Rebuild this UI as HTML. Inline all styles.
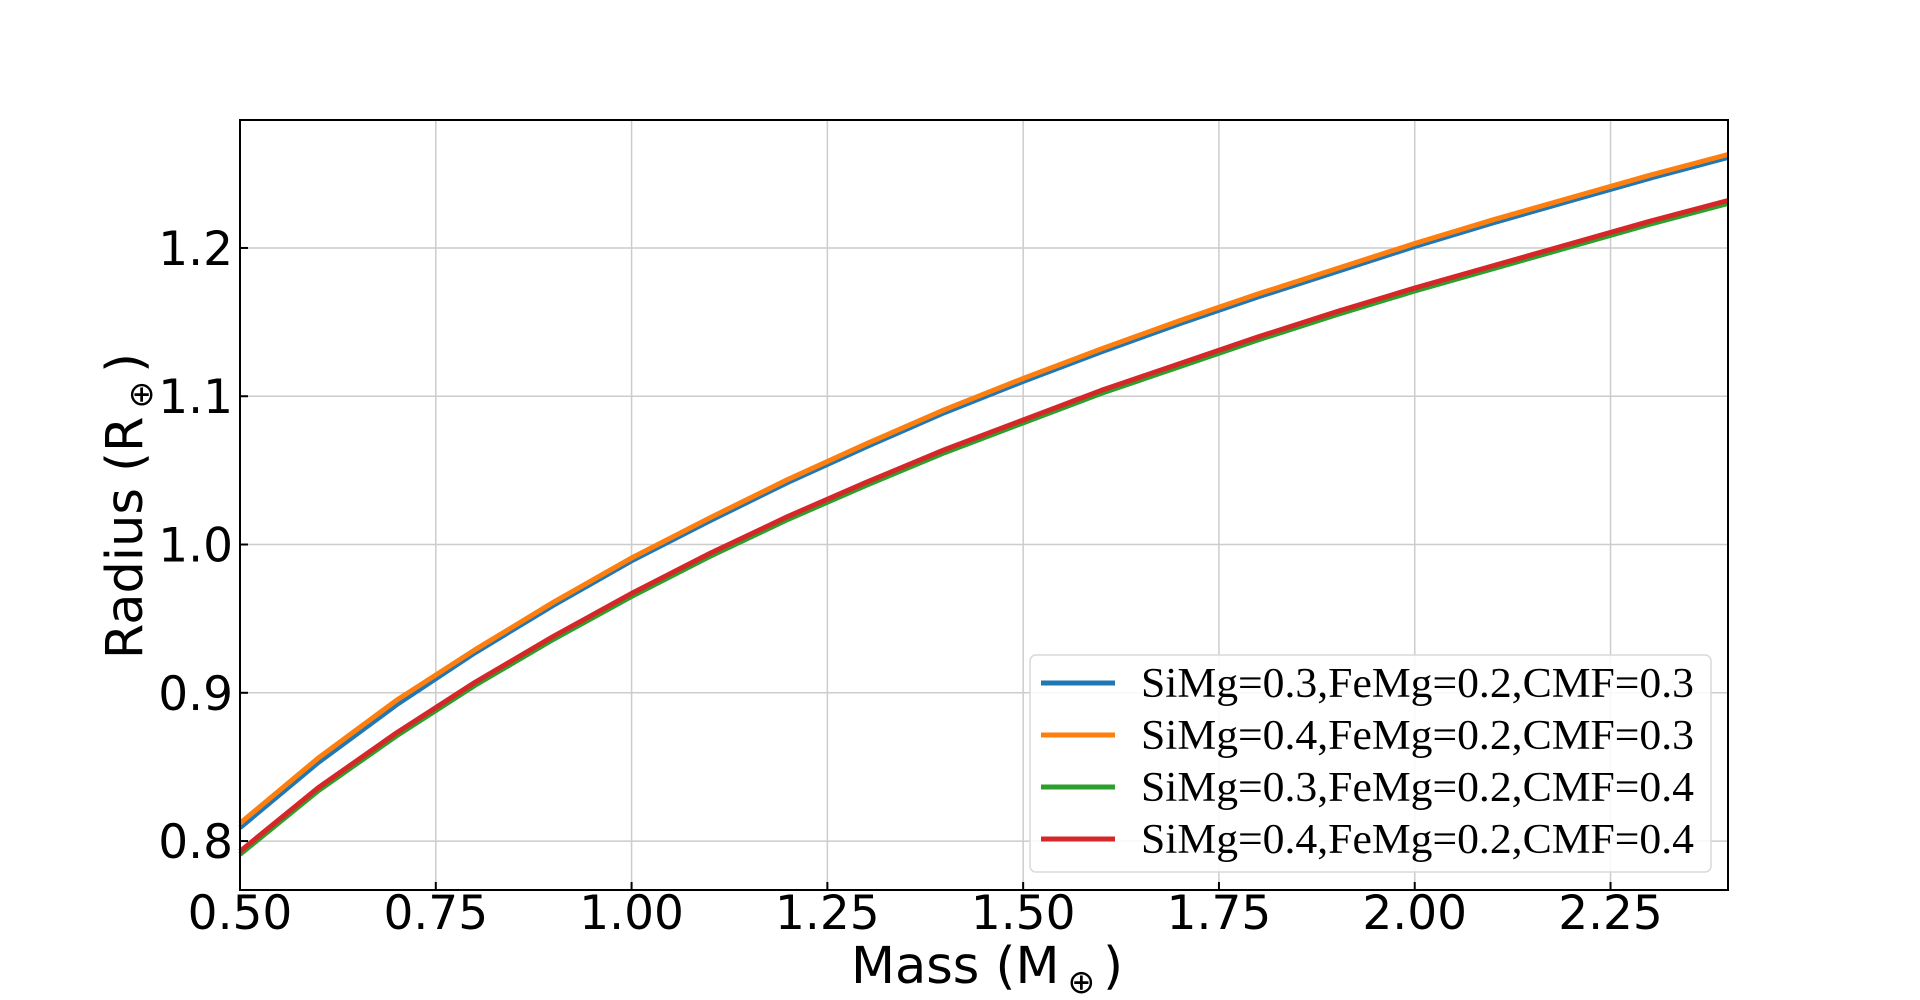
<!DOCTYPE html>
<html><head><meta charset="utf-8"><style>
html,body{margin:0;padding:0;background:#fff;}
svg{display:block;}
</style></head><body>
<svg id="chart" width="1920" height="1000" viewBox="0 0 1920 1000" xmlns="http://www.w3.org/2000/svg" font-family="'DejaVu Sans','Liberation Sans',sans-serif">
<g id="grid"></g>
<g id="series"></g>
<rect x="240" y="120" width="1488" height="770" fill="none" stroke="#000" stroke-width="2"/>
<g id="ticks"></g>
<text x="987" y="983" font-size="51" text-anchor="middle">Mass (M<tspan font-size="33" dx="8" dy="10">⊕</tspan><tspan dx="8" dy="-10">)</tspan></text>
<text transform="translate(142,506) rotate(-90)" font-size="51" text-anchor="middle">Radius (R<tspan font-size="33" dx="8" dy="10">⊕</tspan><tspan dx="8" dy="-10">)</tspan></text>
<g id="legend"></g>
</svg>
<script>
const masses = [0.5,0.6,0.7,0.8,0.9,1.0,1.1,1.2,1.3,1.4,1.5,1.6,1.7,1.8,1.9,2.0,2.1,2.2,2.3,2.4];
const radiusA = [0.809,0.853,0.892,0.927,0.959,0.989,1.016,1.042,1.066,1.089,1.110,1.130,1.149,1.167,1.184,1.201,1.217,1.232,1.247,1.261];
const radiusB = [0.812,0.856,0.895,0.929,0.961,0.991,1.018,1.044,1.068,1.091,1.112,1.132,1.151,1.169,1.186,1.203,1.219,1.234,1.249,1.263];
const radiusC = [0.791,0.834,0.871,0.905,0.936,0.965,0.992,1.017,1.040,1.062,1.082,1.102,1.120,1.138,1.155,1.171,1.186,1.201,1.216,1.230];
const radiusD = [0.793,0.836,0.873,0.907,0.938,0.967,0.994,1.019,1.042,1.064,1.084,1.104,1.122,1.140,1.157,1.173,1.188,1.203,1.218,1.232];
const seriesNames = ["SiMg=0.3,FeMg=0.2,CMF=0.3","SiMg=0.4,FeMg=0.2,CMF=0.3","SiMg=0.3,FeMg=0.2,CMF=0.4","SiMg=0.4,FeMg=0.2,CMF=0.4"];
const xTicks = [0.5,0.75,1.0,1.25,1.5,1.75,2.0,2.25];
const xTickLabels = ["0.50","0.75","1.00","1.25","1.50","1.75","2.00","2.25"];
const yTicks = [0.8,0.9,1.0,1.1,1.2];
const yTickLabels = ["0.8","0.9","1.0","1.1","1.2"];

const colors = ["#1f77b4","#ff7f0e","#2ca02c","#d62728"];
const X0=240,X1=1728,Y0=890,Y1=120, xmin=0.5,xmax=2.4,ymin=0.767,ymax=1.2863;
const xs = v => X0+(v-xmin)/(xmax-xmin)*(X1-X0);
const ys = v => Y0-(v-ymin)/(ymax-ymin)*(Y0-Y1);
const NS="http://www.w3.org/2000/svg";
function mk(tag,attrs,parent){const e=document.createElementNS(NS,tag);for(const k in attrs)e.setAttribute(k,attrs[k]);parent.appendChild(e);return e;}
const grid=document.getElementById('grid'),ticks=document.getElementById('ticks'),ser=document.getElementById('series'),leg=document.getElementById('legend');
xTicks.forEach((t,i)=>{const x=xs(t);
 const g=mk('line',{x1:x,x2:x,y1:Y1,y2:Y0,stroke:'#cccccc','stroke-width':1.5},grid);
 
 
 const tk=mk('line',{x1:x,x2:x,y1:Y0,y2:Y0-8,stroke:'#000','stroke-width':2},ticks);
 
 
 const tx=mk('text',{x:x,y:929,'font-size':47,'text-anchor':'middle'},ticks);tx.textContent=xTickLabels[i];
 
 
});
yTicks.forEach((t,i)=>{const y=ys(t);
 const g=mk('line',{x1:X0,x2:X1,y1:y,y2:y,stroke:'#cccccc','stroke-width':1.5},grid);
 
 
 const tk=mk('line',{x1:X0,x2:X0+8,y1:y,y2:y,stroke:'#000','stroke-width':2},ticks);
 
 
 const tx=mk('text',{x:233,y:y+17,'font-size':47,'text-anchor':'end'},ticks);tx.textContent=yTickLabels[i];
 
 
});
[radiusA,radiusB,radiusC,radiusD].forEach((arr,si)=>{
 const d=arr.map((v,i)=>(i?'L':'M')+xs(masses[i]).toFixed(1)+','+ys(v).toFixed(1)).join(' ');
 const p=mk('path',{d:d,fill:'none',stroke:colors[si],'stroke-width':5,'stroke-linejoin':'round'},ser);
 
 
});
const box=mk('rect',{x:1030,y:655,width:681,height:217,rx:6,fill:'#fff','fill-opacity':0.85,stroke:'#d9d9d9','stroke-width':1.5},leg);


seriesNames.forEach((n,i)=>{const y=683+52*i;
 const l=mk('line',{x1:1041,x2:1115,y1:y,y2:y,stroke:colors[i],'stroke-width':5},leg);
 
 
 const t=mk('text',{x:1141,y:y+14,'font-size':42,'font-family':"'Liberation Serif','DejaVu Serif',serif",textLength:553,lengthAdjust:'spacingAndGlyphs'},leg);
 t.textContent=n;
 
 
});
</script>
</body></html>
